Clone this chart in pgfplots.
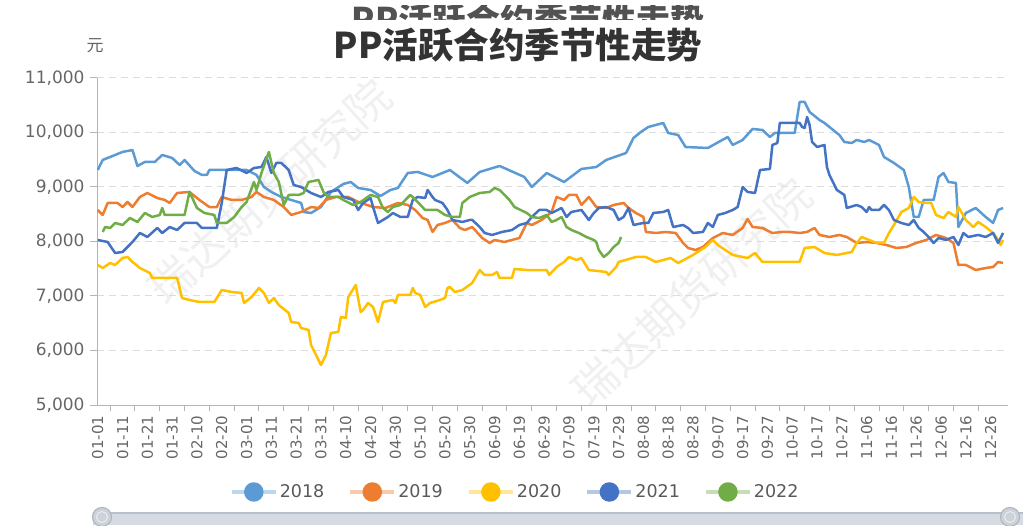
\documentclass[border=0pt]{standalone}
\usepackage{pgfplots}
\pgfplotsset{compat=1.18}
\usepackage{fontspec}
\setmainfont{DejaVu Sans}
\newfontfamily\cjk{Noto Sans CJK SC}
\newcommand\fs[1]{\fontsize{#1}{#1}\selectfont}
\definecolor{c2018}{HTML}{5B9BD5}
\definecolor{c2019}{HTML}{ED7D31}
\definecolor{c2020}{HTML}{FFC000}
\definecolor{c2021}{HTML}{4472C4}
\definecolor{c2022}{HTML}{70AD47}
\definecolor{txt}{HTML}{666666}
\definecolor{legtxt}{HTML}{595959}
\definecolor{gridc}{HTML}{DCDCDC}
\definecolor{axc}{HTML}{B4B4B4}
\definecolor{titlec}{HTML}{333333}
\definecolor{barc}{HTML}{D6DBE3}
\definecolor{barline}{HTML}{B8C0CC}
\begin{document}
\begin{tikzpicture}
\begin{scope}[x=1pt,y=1pt]
\useasboundingbox (0,0) rectangle (1023,525);
\clip (0,0) rectangle (1023,525);
% ghost title (cut off at the top)
\begin{scope}
\clip (300,505) rectangle (760,519);
\node[text=titlec!85] at (528,505) {\cjk\bfseries\fs{34}PP活跃合约季节性走势};
\end{scope}
% watermarks
\node[rotate=42, text=black!6] at (270,333) {\cjk\fs{44}瑞达期货研究院};
\node[rotate=43, text=black!6] at (692,233) {\cjk\fs{44}瑞达期货研究院};
\end{scope}
\begin{axis}[
  at={(97pt,120pt)}, anchor=south west,
  scale only axis, width=911pt, height=327pt,
  xmin=-0.3, xmax=367, ymin=5000, ymax=11000,
  axis x line*=bottom, axis y line*=left,
  axis line style={draw=axc, line width=1pt},
  xtick={0,10,...,360},
  xticklabels={01-01,01-11,01-21,01-31,02-10,02-20,03-01,03-11,03-21,03-31,04-10,04-20,04-30,05-10,05-20,05-30,06-09,06-19,06-29,07-09,07-19,07-29,08-08,08-18,08-28,09-07,09-17,09-27,10-07,10-17,10-27,11-06,11-16,11-26,12-06,12-16,12-26},
  minor x tick num=1,
  major x tick style={draw=none},
  minor x tick style={draw=axc, line width=1pt},
  minor tick length=6pt,
  ytick={5000,6000,...,11000},
  major tick length=7pt,
  tick align=outside,
  ytick style={draw=axc, line width=1pt},
  ymajorgrids,
  grid style={gridc, dash pattern=on 7pt off 5pt, line width=1pt},
  scaled y ticks=false,
  yticklabel style={font=\fs{17}, text=txt, xshift=-2pt, /pgf/number format/.cd, 1000 sep={,}, assume math mode=true},
  xticklabel style={font=\fs{15}, text=txt, rotate=90, anchor=east},
  legend columns=5,
  legend style={at={(0.459,-0.266)}, anchor=center, draw=none, fill=none,
    font=\fs{17.5}, text=legtxt,
    /tikz/every even column/.append style={column sep=22pt}},
  legend image code/.code={
    \draw[#1, line width=4pt, draw opacity=0.4] (0pt,0pt) -- (44pt,0pt);
    \fill[#1] (22pt,0pt) circle (8.5pt);},
  every axis plot/.append style={line width=2.5pt, line join=round, no marks},
]
\addplot[color=c2018] coordinates {
(0,9312)(2,9496)(10,9643)(14,9679)(16,9386)(19,9459)(23,9459)(26,9588)(30,9532)(33,9404)(35,9496)(39,9294)(42,9221)(44,9221)(45,9312)(52,9312)(60,9312)(64,9221)(67,9000)(70,8909)(74,8817)(78,8762)(82,8707)(83,8542)(86,8523)(90,8633)(94,8909)(99,9055)(102,9092)(105,8982)(110,8945)(114,8835)(118,8945)(121,8982)(125,9257)(129,9276)(135,9184)(142,9312)(149,9074)(154,9276)(162,9386)(172,9184)(175,9000)(181,9257)(188,9092)(195,9331)(201,9367)(205,9496)(213,9624)(216,9900)(219,10010)(222,10101)(228,10175)(230,9991)(234,9955)(237,9734)(246,9716)(254,9918)(256,9771)(260,9863)(264,10065)(268,10046)(271,9918)(273,9991)(277,9991)(281,9991)(283,10560)(285,10560)(287,10377)(291,10230)(293,10175)(295,10101)(299,9955)(301,9826)(304,9808)(306,9863)(309,9826)(311,9863)(315,9771)(317,9551)(321,9441)(325,9312)(327,9000)(329,8450)(331,8450)(333,8762)(337,8762)(339,9184)(341,9257)(343,9092)(346,9074)(347,8266)(350,8523)(354,8615)(358,8450)(361,8340)(363,8578)(365,8615)
};
\addlegendentry{2018}
\addplot[color=c2019] coordinates {
(0,8578)(2,8487)(4,8707)(8,8707)(10,8633)(12,8725)(14,8633)(17,8817)(20,8890)(24,8798)(27,8762)(29,8707)(32,8890)(37,8909)(41,8762)(45,8633)(48,8633)(50,8817)(54,8762)(58,8762)(62,8817)(64,8909)(67,8817)(71,8762)(75,8633)(78,8487)(82,8542)(86,8633)(89,8615)(92,8762)(96,8817)(101,8817)(105,8725)(111,8633)(116,8615)(121,8707)(125,8670)(128,8578)(131,8431)(133,8395)(135,8175)(137,8303)(140,8340)(143,8395)(146,8248)(148,8211)(151,8266)(155,8064)(158,7973)(160,8028)(164,7991)(167,8028)(170,8064)(173,8340)(175,8303)(179,8395)(183,8542)(185,8817)(188,8762)(190,8854)(193,8854)(195,8670)(198,8817)(201,8633)(205,8615)(208,8670)(212,8707)(214,8615)(217,8523)(220,8450)(221,8175)(225,8156)(229,8175)(233,8156)(236,7973)(238,7881)(241,7844)(244,7899)(248,8064)(252,8156)(256,8120)(260,8248)(262,8413)(264,8266)(268,8248)(272,8156)(276,8175)(279,8175)(283,8156)(286,8175)(289,8248)(291,8120)(295,8083)(299,8120)(302,8083)(306,7973)(310,7991)(314,7973)(318,7936)(322,7881)(326,7899)(330,7973)(334,8028)(338,8120)(342,8064)(345,7973)(347,7569)(350,7569)(354,7477)(358,7514)(361,7532)(363,7624)(365,7606)
};
\addlegendentry{2019}
\addplot[color=c2020] coordinates {
(0,7569)(2,7514)(5,7606)(7,7569)(10,7697)(12,7716)(14,7624)(17,7514)(21,7422)(22,7331)(32,7331)(34,6963)(37,6927)(41,6890)(47,6890)(50,7110)(54,7074)(58,7055)(59,6872)(62,6982)(65,7147)(67,7055)(69,6872)(71,6963)(73,6835)(77,6688)(78,6523)(81,6505)(82,6413)(85,6376)(86,6101)(88,5918)(90,5734)(92,5918)(94,6321)(97,6340)(98,6615)(100,6597)(101,6982)(104,7202)(106,6707)(107,6743)(109,6872)(111,6798)(113,6523)(115,6890)(119,6927)(120,6872)(121,7019)(126,7019)(127,7147)(128,7055)(130,7019)(132,6798)(134,6872)(138,6927)(140,6963)(141,7147)(142,7165)(144,7074)(147,7110)(151,7239)(154,7477)(156,7386)(159,7386)(161,7441)(162,7331)(167,7331)(168,7496)(173,7477)(178,7477)(181,7477)(182,7386)(185,7532)(188,7624)(190,7716)(193,7661)(195,7697)(198,7477)(205,7441)(206,7386)(209,7532)(210,7624)(217,7716)(221,7716)(225,7624)(231,7697)(234,7606)(240,7753)(245,7899)(248,8028)(250,7936)(256,7753)(262,7697)(265,7789)(268,7624)(279,7624)(283,7624)(285,7881)(289,7899)(293,7789)(298,7753)(302,7789)(304,7808)(306,7973)(308,8083)(311,8028)(314,7973)(317,7973)(319,8156)(321,8303)(324,8542)(327,8615)(329,8817)(331,8725)(334,8707)(336,8707)(338,8487)(341,8431)(343,8542)(346,8450)(347,8633)(350,8395)(353,8266)(355,8358)(358,8266)(361,8156)(363,8028)(364,7936)(365,8028)
};
\addlegendentry{2020}
\addplot[color=c2021] coordinates {
(0,8028)(4,7991)(7,7789)(10,7808)(12,7899)(14,7991)(17,8156)(20,8083)(24,8248)(26,8156)(29,8266)(32,8211)(35,8340)(40,8340)(42,8248)(48,8248)(50,8707)(52,9312)(56,9349)(60,9257)(63,9349)(66,9367)(68,9551)(70,9257)(72,9441)(74,9441)(77,9312)(79,9037)(82,9000)(86,8890)(90,8817)(93,8909)(97,8945)(99,8817)(103,8762)(105,8578)(107,8707)(110,8798)(111,8633)(113,8340)(117,8450)(119,8523)(122,8450)(125,8450)(127,8762)(129,8817)(132,8798)(133,8945)(135,8817)(136,8762)(139,8707)(141,8578)(143,8395)(147,8358)(150,8395)(151,8395)(154,8266)(156,8156)(159,8120)(163,8175)(167,8211)(170,8303)(173,8340)(175,8450)(178,8578)(181,8578)(183,8523)(187,8615)(189,8450)(191,8542)(195,8578)(198,8395)(200,8523)(202,8615)(205,8633)(208,8578)(210,8395)(212,8450)(214,8615)(216,8303)(220,8340)(222,8340)(224,8523)(228,8542)(230,8578)(232,8266)(236,8303)(238,8248)(240,8156)(244,8175)(246,8340)(248,8266)(250,8487)(253,8523)(256,8578)(258,8633)(260,9000)(262,8909)(265,8890)(267,9312)(271,9331)(272,9771)(274,9808)(275,10175)(279,10175)(283,10175)(284,10101)(285,10083)(286,10285)(287,10138)(288,9826)(290,9734)(293,9771)(294,9367)(295,9221)(296,9129)(298,8945)(301,8854)(302,8615)(306,8670)(308,8633)(310,8542)(311,8633)(312,8578)(315,8578)(317,8670)(319,8578)(321,8395)(324,8340)(327,8303)(329,8395)(331,8248)(333,8175)(335,8083)(337,7973)(339,8064)(342,8028)(345,8083)(347,7936)(349,8156)(351,8083)(355,8120)(358,8083)(361,8156)(363,7973)(365,8156)
};
\addlegendentry{2021}
\addplot[color=c2022] coordinates {
(2,8175)(3,8266)(5,8248)(7,8340)(10,8303)(13,8431)(16,8358)(19,8523)(22,8450)(25,8487)(26,8615)(27,8487)(32,8487)(35,8487)(37,8909)(40,8615)(43,8523)(47,8487)(48,8340)(52,8340)(55,8450)(58,8633)(60,8725)(63,9092)(64,8945)(66,9257)(69,9643)(71,9257)(73,9092)(75,8670)(77,8854)(81,8854)(83,8890)(85,9092)(89,9129)(91,8909)(93,8817)(97,8817)(99,8762)(103,8670)(106,8725)(110,8854)(113,8817)(115,8615)(117,8542)(119,8633)(122,8670)(126,8854)(127,8817)(129,8725)(132,8578)(137,8578)(140,8487)(143,8450)(146,8450)(147,8707)(150,8817)(154,8890)(158,8909)(160,8982)(162,8945)(166,8762)(168,8633)(173,8523)(175,8450)(178,8431)(181,8487)(183,8358)(185,8395)(187,8450)(189,8266)(191,8211)(194,8156)(197,8083)(200,8028)(201,7991)(202,7844)(204,7716)(206,7789)(208,7899)(210,7973)(211,8083)
};
\addlegendentry{2022}
\end{axis}
\begin{scope}[x=1pt,y=1pt]
\clip (0,0) rectangle (1023,525);
% title and unit
\node[text=titlec] at (518,480) {\cjk\bfseries\fs{35.5}PP活跃合约季节性走势};
\node[text=txt] at (95,479) {\cjk\fs{17}元};
% data zoom slider
\fill[barc] (93,0) rectangle (1023,12);
\draw[barline, line width=1.2pt] (93,12) -- (1023,12);
\foreach \hx in {102,1010} {
  \fill[barc!90!gray] (\hx,8) circle (10);
  \draw[barline!80!gray, line width=1pt] (\hx,8) circle (9.5);
  \draw[white!70!barline, line width=1pt] (\hx,8) circle (5.5);
}
\end{scope}
\end{tikzpicture}
\end{document}
